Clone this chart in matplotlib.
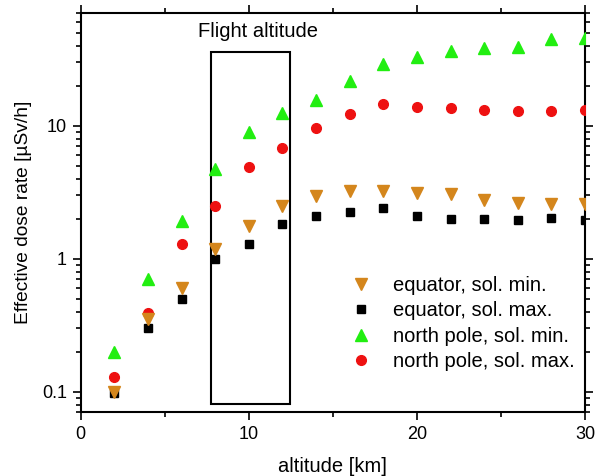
import matplotlib.pyplot as plt
from matplotlib.patches import Rectangle
from matplotlib.ticker import FixedLocator, LogLocator, NullFormatter, FixedFormatter

plt.rcParams["font.family"] = ["Liberation Sans", "DejaVu Sans"]

altitude = [2, 4, 6, 8, 10, 12, 14, 16, 18, 20, 22, 24, 26, 28, 30]
eq_sol_min = [0.1, 0.35, 0.6, 1.19, 1.76, 2.48, 2.95, 3.23, 3.23, 3.12, 3.05, 2.75, 2.64, 2.57, 2.57]
eq_sol_max = [0.098, 0.30, 0.50, 0.99, 1.30, 1.81, 2.09, 2.24, 2.42, 2.09, 2.0, 1.98, 1.97, 2.04, 1.97]
np_sol_min = [0.2, 0.7, 1.92, 4.7, 9.0, 12.5, 15.5, 21.8, 29.0, 33.0, 36.5, 38.2, 39.3, 44.7, 45.9]
np_sol_max = [0.13, 0.39, 1.30, 2.5, 4.9, 6.8, 9.6, 12.2, 14.6, 13.9, 13.5, 13.1, 12.9, 12.9, 13.1]

box_x = (7.75, 12.47)
box_y = (0.081, 36.0)

fig = plt.figure(figsize=(5.96, 4.76), dpi=100)
ax = fig.add_axes([0.1354, 0.1338, 0.8461, 0.8383])

h_eqmax, = ax.plot(altitude, eq_sol_max, "s", color="black", ms=5.5, ls="none", zorder=3)
h_npmax, = ax.plot(altitude, np_sol_max, "o", color="#ee1111", ms=7, ls="none", zorder=3)
h_npmin, = ax.plot(altitude, np_sol_min, "^", color="#22ee11", ms=8, ls="none", zorder=3)
h_eqmin, = ax.plot(altitude, eq_sol_min, "v", color="#d4861c", ms=8, ls="none", zorder=4)

ax.add_patch(Rectangle((box_x[0], box_y[0]), box_x[1] - box_x[0], box_y[1] - box_y[0],
                       fill=False, ec="black", lw=1.5, zorder=2))
ax.text(10.55, 51, "Flight altitude", ha="center", va="center", fontsize=14.5)

ax.set_yscale("log")
ax.set_xlim(0, 30)
ax.set_ylim(0.07, 70)

ax.xaxis.set_major_locator(FixedLocator([0, 10, 20, 30]))
ax.xaxis.set_minor_locator(FixedLocator([5, 15, 25]))
ax.yaxis.set_major_locator(FixedLocator([0.1, 1, 10]))
ax.yaxis.set_major_formatter(FixedFormatter(["0.1", "1", "10"]))
ax.yaxis.set_minor_locator(LogLocator(base=10, subs=range(2, 10)))
ax.yaxis.set_minor_formatter(NullFormatter())

ax.tick_params(which="both", direction="out", top=True, right=True, width=1.2, labelsize=13)
ax.tick_params(which="major", length=6, pad=4)
ax.tick_params(which="minor", length=3.5)
for s in ax.spines.values():
    s.set_linewidth(1.5)

ax.set_xlabel("altitude [km]", fontsize=14.5, labelpad=10)
ax.set_ylabel("Effective dose rate [\u00b5Sv/h]", fontsize=13.8, labelpad=7)

ax.legend([h_eqmin, h_eqmax, h_npmin, h_npmax],
          ["equator, sol. min.", "equator, sol. max.", "north pole, sol. min.", "north pole, sol. max."],
          loc="center left", bbox_to_anchor=(351 / 596, 1 - 323.5 / 476),
          bbox_transform=fig.transFigure, frameon=False, fontsize=14.5,
          handlelength=1.0, handletextpad=1.1, labelspacing=0.32,
          borderpad=0, borderaxespad=0)

fig.savefig("out.png", dpi=100)
